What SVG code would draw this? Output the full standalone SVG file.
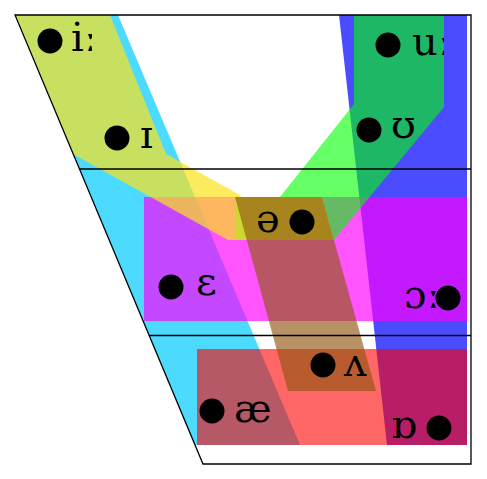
<svg xmlns="http://www.w3.org/2000/svg" width="487" height="479" viewBox="0 0 487 479">
<style>
.lbl{font-family:"DejaVu Serif","Liberation Serif",serif;font-size:40px;fill:#000}
.dot{fill:#000}
.frame{fill:none;stroke:#000;stroke-width:1.3}
</style>
<defs>
<clipPath id="clipI"><rect x="0" y="0" width="92" height="100"/></clipPath>
<clipPath id="clipU"><rect x="380" y="0" width="64" height="100"/></clipPath>
</defs>
<rect width="487" height="479" fill="#fff"/>
<g id="regions">
<polygon id="cyan" points="15,15 118,15 300,445 195,445" fill="#00ccff" fill-opacity="0.7"/>
<polygon id="blue" points="339,15 467,15 467,445 387,445" fill="#0000ff" fill-opacity="0.7"/>
<rect id="magenta" x="144" y="197" width="323" height="124" fill="#ff00ff" fill-opacity="0.67"/>
<polygon id="green" points="354,15 444,15 444,107 334,240 235,240 235,197 280,197 354,104" fill="#00ff00" fill-opacity="0.6"/>
<polygon id="yellow" points="15,15 110,15 166,154 240,195 241,197 322,197 334,240 228,240 73,154" fill="#fce21b" fill-opacity="0.7"/>
<rect id="red" x="197" y="349" width="270" height="96" fill="#ff0000" fill-opacity="0.6"/>
<polygon id="band" points="235,197 322,197 376,391 288,391" fill="#925812" fill-opacity="0.65"/>
</g>
<g id="frame" class="frame">
<path d="M15,15 H471 V464 H203 Z"/>
<path d="M79.5,169 H471"/>
<path d="M149.2,335.5 H471"/>
</g>
<g id="v-i"><circle class="dot" cx="50" cy="41" r="12.5"/><text class="lbl" x="71" y="51" clip-path="url(#clipI)">iː</text></g>
<g id="v-I"><circle class="dot" cx="117" cy="138" r="12.5"/><text class="lbl" x="140" y="148">ɪ</text></g>
<g id="v-u"><circle class="dot" cx="388" cy="45" r="12.5"/><text class="lbl" x="412" y="55" clip-path="url(#clipU)">uː</text></g>
<g id="v-U"><circle class="dot" cx="369" cy="130" r="12.5"/><text class="lbl" x="391" y="138">ʊ</text></g>
<g id="v-schwa"><text class="lbl" x="256" y="232">ə</text><circle class="dot" cx="302" cy="222" r="12.5"/></g>
<g id="v-e"><circle class="dot" cx="171" cy="287" r="12.5"/><text class="lbl" x="196" y="295">ɛ</text></g>
<g id="v-o"><text class="lbl" x="404" y="308">ɔː</text><circle class="dot" cx="448" cy="298" r="12.5"/></g>
<g id="v-V"><circle class="dot" cx="323" cy="365" r="12.5"/><text class="lbl" x="344" y="376">ʌ</text></g>
<g id="v-ae"><circle class="dot" cx="212" cy="411" r="12.5"/><text class="lbl" x="234" y="422">æ</text></g>
<g id="v-Q"><text class="lbl" x="391" y="438">ɒ</text><circle class="dot" cx="439" cy="428" r="12.5"/></g>
</svg>
